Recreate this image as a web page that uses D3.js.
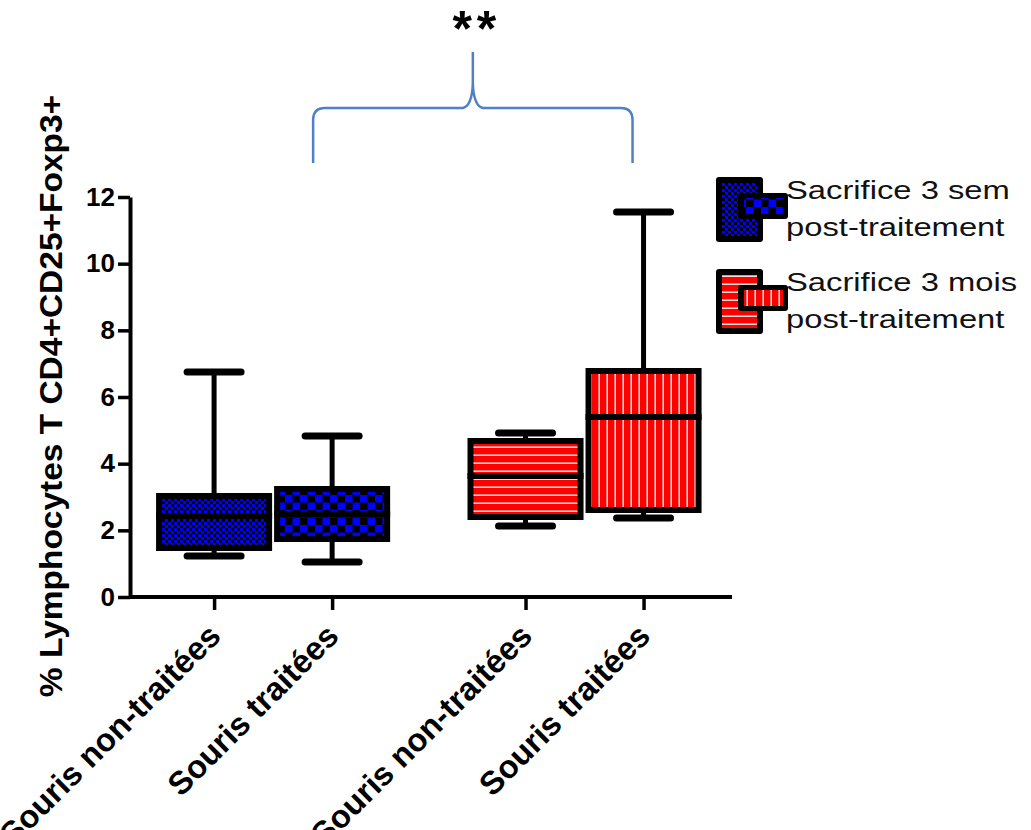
<!DOCTYPE html>
<html>
<head>
<meta charset="utf-8">
<script src="https://cdn.jsdelivr.net/npm/d3@7"></script>
<style>
  body { margin: 0; background: #fff; }
  svg { display: block; font-family: "Liberation Sans", Arial, sans-serif; }
</style>
</head>
<body>
<div id="chart"></div>
<script>
// groups = time of sacrifice, conditions = treated / untreated mice
var groups = ["Sacrifice 3 sem post-traitement", "Sacrifice 3 mois post-traitement"];
var legendLines = [["Sacrifice 3 sem", "post-traitement"], ["Sacrifice 3 mois", "post-traitement"]];
var conditions = ["Souris non-traitées", "Souris traitées"];
var yTicks = [0, 2, 4, 6, 8, 10, 12];

// box plot summaries, one row per group, in the order of conditions
var boxMin    = [[1.23, 1.05], [2.13, 2.37]];
var boxQ1     = [[1.47, 1.74], [2.40, 2.61]];
var boxMedian = [[2.43, 2.49], [3.63, 5.40]];
var boxQ3     = [[3.03, 3.24], [4.68, 6.78]];
var boxMax    = [[6.75, 4.83], [4.92, 11.55]];
var signifLabel = "**";
var yLabel = "% Lymphocytes T CD4+CD25+Foxp3+";

var width = 1031, height = 830;

var svg = d3.select("#chart").append("svg")
    .attr("width", width)
    .attr("height", height);

// patterns for the four boxes
var defs = svg.append("defs");
function checker(id, cell, color) {
  var p = defs.append("pattern").attr("id", id)
    .attr("patternUnits", "userSpaceOnUse")
    .attr("width", cell * 2).attr("height", cell * 2);
  p.append("rect").attr("width", cell * 2).attr("height", cell * 2).attr("fill", "#000");
  p.append("rect").attr("width", cell).attr("height", cell).attr("fill", color);
  p.append("rect").attr("x", cell).attr("y", cell).attr("width", cell).attr("height", cell).attr("fill", color);
}
function stripes(id, step, vertical) {
  var p = defs.append("pattern").attr("id", id)
    .attr("patternUnits", "userSpaceOnUse")
    .attr("width", step).attr("height", step);
  p.append("rect").attr("width", step).attr("height", step).attr("fill", "#ff0000");
  if (vertical)
    p.append("rect").attr("x", step - 1.6).attr("width", 1.6).attr("height", step).attr("fill", "#ffd6d6");
  else
    p.append("rect").attr("y", step - 1.6).attr("width", step).attr("height", 1.6).attr("fill", "#ffd6d6");
}
checker("pat-0-0", 3, "#0000ff");
checker("pat-0-1", 7.5, "#0000ff");
stripes("pat-1-0", 8, false);
stripes("pat-1-1", 8, true);
function pat(g, c) { return "url(#pat-" + g + "-" + c + ")"; }

// scales
var y = d3.scaleLinear().domain([0, 12]).range([597, 197]);
var x0 = d3.scaleBand().domain(groups).range([130, 732])
    .paddingInner(0.242).paddingOuter(0.0875).align(0.46);
var x1 = d3.scaleBand().domain(conditions).range([0, x0.bandwidth()]);
function cx(g, c) { return x0(groups[g]) + x1(conditions[c]) + x1.bandwidth() / 2; }

// flatten to one record per box
var boxes = [];
groups.forEach(function(gName, g) {
  conditions.forEach(function(cName, c) {
    boxes.push({ g: g, c: c, key: g + "-" + c, label: cName,
      min: boxMin[g][c], q1: boxQ1[g][c], med: boxMedian[g][c],
      q3: boxQ3[g][c], max: boxMax[g][c] });
  });
});

var half = x1.bandwidth() / 2 - 1;
var capHalf = 27;

var box = svg.append("g").selectAll("g")
  .data(boxes)
  .enter().append("g");

// whiskers
box.append("line")
    .attr("x1", function(d) { return cx(d.g, d.c); })
    .attr("x2", function(d) { return cx(d.g, d.c); })
    .attr("y1", function(d) { return y(d.max); })
    .attr("y2", function(d) { return y(d.min); })
    .attr("stroke", "#000").attr("stroke-width", 5);
["max", "min"].forEach(function(k) {
  box.append("line")
    .attr("x1", function(d) { return cx(d.g, d.c) - capHalf; })
    .attr("x2", function(d) { return cx(d.g, d.c) + capHalf; })
    .attr("y1", function(d) { return y(d[k]); })
    .attr("y2", function(d) { return y(d[k]); })
    .attr("stroke", "#000").attr("stroke-width", 7)
    .attr("stroke-linecap", "round");
});

// box body: black frame with patterned inside
box.append("rect")
    .attr("x", function(d) { return cx(d.g, d.c) - half; })
    .attr("y", function(d) { return y(d.q3) - 3; })
    .attr("width", half * 2)
    .attr("height", function(d) { return y(d.q1) - y(d.q3) + 6; })
    .attr("fill", "#000");
box.append("rect")
    .attr("x", function(d) { return cx(d.g, d.c) - half + 6; })
    .attr("y", function(d) { return y(d.q3) + 3; })
    .attr("width", half * 2 - 12)
    .attr("height", function(d) { return y(d.q1) - y(d.q3) - 6; })
    .attr("fill", function(d) { return pat(d.g, d.c); });
box.append("line")
    .attr("x1", function(d) { return cx(d.g, d.c) - half; })
    .attr("x2", function(d) { return cx(d.g, d.c) + half; })
    .attr("y1", function(d) { return y(d.med); })
    .attr("y2", function(d) { return y(d.med); })
    .attr("stroke", "#000").attr("stroke-width", 6);

// Y axis
var yAxis = svg.append("g")
    .attr("transform", "translate(130,0)")
    .call(d3.axisLeft(y).tickValues(yTicks).tickSize(12).tickPadding(3).tickSizeOuter(0));
yAxis.select(".domain").attr("stroke-width", 4);
yAxis.selectAll(".tick line").attr("stroke-width", 3.5);
yAxis.selectAll(".tick text")
    .attr("fill", "#000")
    .style("font-size", "26px").style("font-weight", "bold")
    .style("font-family", "'Liberation Sans', Arial, sans-serif");

// X axis: one tick per box
var keyScale = d3.scaleOrdinal()
    .domain(boxes.map(function(d) { return d.key; }))
    .range(boxes.map(function(d) { return cx(d.g, d.c); }));
var xAxis = svg.append("g")
    .attr("transform", "translate(0,597)")
    .call(d3.axisBottom(keyScale).tickSize(13).tickSizeOuter(0)
      .tickFormat(function(k) { return boxes.find(function(b) { return b.key === k; }).label; }));
xAxis.select(".domain").remove();
xAxis.append("line")
    .attr("x1", x0.range()[0]).attr("x2", x0.range()[1])
    .attr("stroke", "#000").attr("stroke-width", 4);
xAxis.selectAll(".tick line").attr("stroke-width", 3.5);
xAxis.selectAll(".tick text")
    .attr("y", null).attr("dy", null)
    .attr("transform", "translate(8,41) rotate(-45)")
    .attr("text-anchor", "end")
    .attr("fill", "#000")
    .style("font-size", "32.5px").style("font-weight", "bold")
    .style("font-family", "'Liberation Sans', Arial, sans-serif");

// Y axis title
svg.append("text")
    .attr("transform", "translate(62," + ((y(12) + y(0)) / 2 - 1) + ") rotate(-90) scale(1.08,1)")
    .attr("text-anchor", "middle")
    .style("font-size", "31px").style("font-weight", "bold")
    .text(yLabel);

// legend
var legend = svg.append("g").selectAll("g")
  .data(groups)
  .enter().append("g")
    .attr("transform", function(d, i) { return "translate(716," + (177 + i * 92) + ")"; });
legend.append("rect").attr("width", 47).attr("height", 65).attr("rx", 3).attr("fill", "#000");
legend.append("rect").attr("x", 6).attr("y", 6).attr("width", 35).attr("height", 53)
    .attr("fill", function(d, i) { return pat(i, 0); });
legend.append("rect").attr("x", 22).attr("y", 16).attr("width", 50).attr("height", 26).attr("rx", 3).attr("fill", "#000");
legend.append("rect").attr("x", 28).attr("y", 21).attr("width", 39).attr("height", 16)
    .attr("fill", function(d, i) { return pat(i, 1); });
legend.each(function(d, i) {
  var g = d3.select(this);
  legendLines[i].forEach(function(line, j) {
    g.append("text")
      .attr("transform", "translate(70," + (22 + j * 37) + ") scale(1.26,1)")
      .style("font-size", "26px")
      .attr("fill", "#111")
      .text(line);
  });
});

// significance bracket between the treated mice of both groups
var bl = cx(0, 1) - 19, br = cx(1, 1) - 11, bm = (bl + br) / 2;
var bBottom = y(12) - 34, bTop = y(12) - 89, tip = y(12) - 145;
var brace = d3.path();
brace.moveTo(bl, bBottom);
brace.lineTo(bl, bTop + 12);
brace.quadraticCurveTo(bl, bTop, bl + 12, bTop);
brace.lineTo(bm - 10, bTop);
brace.quadraticCurveTo(bm - 1, bTop - 2, bm, bTop - 24);
brace.lineTo(bm, tip);
brace.moveTo(bm, bTop - 24);
brace.quadraticCurveTo(bm + 1, bTop - 2, bm + 10, bTop);
brace.lineTo(br - 12, bTop);
brace.quadraticCurveTo(br, bTop, br, bTop + 12);
brace.lineTo(br, bBottom);
svg.append("path")
    .attr("d", brace.toString())
    .attr("fill", "none")
    .attr("stroke", "#4f81c4")
    .attr("stroke-width", 2.5);

svg.append("text")
    .attr("x", bm + 4).attr("y", 46)
    .attr("text-anchor", "middle")
    .style("font-size", "50px").style("font-weight", "bold")
    .style("letter-spacing", "5px")
    .text(signifLabel);
</script>
</body>
</html>
